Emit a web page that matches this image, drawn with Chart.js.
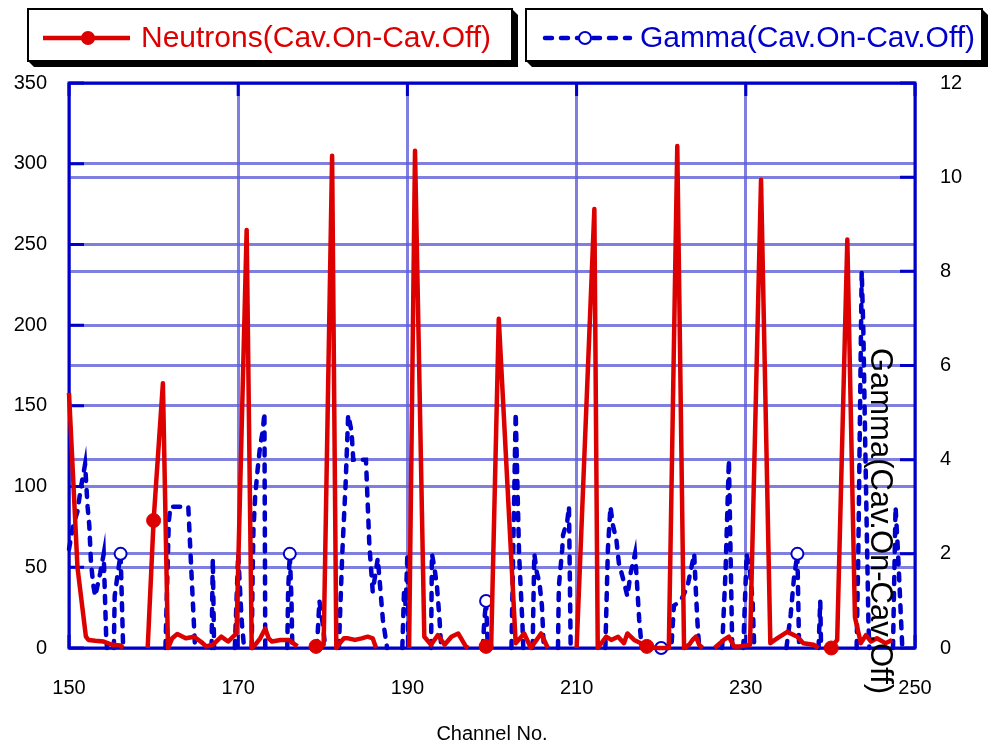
<!DOCTYPE html>
<html>
<head>
<meta charset="utf-8">
<script src="https://cdn.jsdelivr.net/npm/chart.js@4"></script>
<style>
html, body { margin: 0; padding: 0; background: #fff; }
#wrap { width: 990px; height: 747px; }
</style>
</head>
<body>
<div id="wrap"><canvas id="chart" width="990" height="747"></canvas></div>
<script>
// neutron trace: channel positions and counts (null = no line drawn)
const neutronCh = [150, 151, 152, 152.3, 153.1, 154.1, 155.1, 156.1, 156.4, 157,
    159.3, 160, 161.1, 161.7, 162.2, 162.8, 163.8, 164.8, 165.8, 166.2, 167, 168, 168.8, 169.4, 169.8,
    171, 171.6, 172, 172.6, 173.2, 173.6, 174, 175, 176, 177, 177.5,
    178.6, 179.2, 180.1, 181.1, 181.6, 182, 182.5, 183, 183.8, 184.6, 185.3, 185.9, 186.3, 187,
    190.2, 190.9, 192, 192.8, 193.6, 194.4, 195.2, 196, 196.9, 197.2, 198,
    198.7, 199.3, 199.9, 200.8, 202.8, 203.8, 204.6, 205.8, 206.6, 207,
    210, 212.1, 212.5, 213.5, 214.1, 214.9, 215.6, 216, 216.8, 217.6, 218.3, 219.5, 220.9,
    221.9, 222.7, 223.3, 223.7, 224.1, 224.5, 224.9, 225.5,
    226.3, 227.4, 228, 228.6, 229.3, 230.5, 231.8, 232.9, 233.7, 234.9, 236.1, 236.8, 238, 238.6, 239,
    239.5, 240.1, 240.8, 242, 242.9, 243.6, 244.2, 244.8, 245.5, 246.5, 247.3];
const neutronVal = [158, 50, 7, 5, 4.5, 4, 2, 1.5, 0, null,
    0, 79, 164, 0, 6, 8.7, 6, 7, 3, 1, 2, 7, 4, 7, 9,
    259, 0, 2, 6, 12, 6, 4, 5, 5, 1, null,
    0, 1, 2, 305, 0, 3, 6, 6, 5, 6, 7, 6, 0, null,
    0, 308, 7, 2, 8, 2, 7, 9, 1, 0, null,
    0, 1, 1, 204, 3, 9, 0, 9, 0, null,
    0, 272, 0, 7, 5, 7, 3, 9, 5, 3, 1, 0, 0,
    311, 0, 2, 5, 7, 2, 0, null,
    0, 5, 7, 1, 1, 2, 290, 3, 6, 10, 7, 3, 2, 0, null,
    0, 0, 5, 253, 19, 3, 8, 4, 6, 3, 5];
const neutronMarks = [160, 179.2, 199.3, 218.3, 240.1];

// gamma trace
const gammaCh = [150, 150.5, 151, 151.4, 151.9, 152.2, 152.4, 152.6, 152.9, 153.1, 153.7, 154.1, 154.4, 154.5, 155,
    155.3, 155.4, 155.7, 156.1, 156.4, 158,
    161.4, 161.8, 162, 162.8, 164.1, 164.9, 166,
    166.85, 167, 167.15, 168,
    169.6, 170, 170.4, 170.7, 171,
    171.6, 171.7, 171.8, 172, 172.3, 172.6, 172.9, 173.1, 173.2, 174,
    175.8, 175.9, 176.1, 176.3, 176.4, 178,
    179.3, 179.6, 180, 180.3, 181,
    181.9, 182.3, 182.7, 183, 183.4, 183.6, 185.1, 185.5, 185.9, 186.5, 187.1, 187.6, 188,
    189.4, 189.6, 189.8, 190, 190.1, 191,
    192.8, 192.9, 193.2, 193.5, 193.8, 194, 196,
    198.9, 199.1, 199.3, 199.5, 201,
    202.3, 202.8, 203.2, 203.6, 203.7, 204,
    204.8, 205, 205.3, 205.6, 205.9, 206.1, 206.2, 207,
    207.8, 207.9, 208.3, 208.4, 208.9, 209.1, 209.3, 211,
    213.4, 213.7, 214, 214.3, 214.7, 215, 215.6, 216, 216.4, 216.9, 217.1, 217.4, 217.7, 219,
    220, 221.2, 221.5, 222.3, 223.1, 223.9, 224.1, 224.3, 224.5, 226,
    227.2, 227.6, 227.8, 228, 228.2, 228.4, 229,
    229.7, 230.1, 230.5, 230.8, 231, 233,
    234.8, 235.3, 235.7, 236.1, 236.3, 237,
    238.6, 238.8, 238.9, 240,
    243.1, 243.3, 243.5, 243.7, 243.9, 244.1, 244.3, 244.5, 244.6, 246,
    247.4, 247.7, 248, 248.3, 248.5];
const gammaVal = [2.1, 2.6, 2.9, 3.4, 3.9, 3.0, 2.6, 1.8, 1.3, 1.1, 1.6, 2.0, 0.2, 0, null,
    0, 1.1, 1.5, 2.0, 0, null,
    0, 2.7, 3.0, 3.0, 3.0, 0, null,
    0, 1.9, 0, null,
    0, 2.0, 0.6, 0, null,
    0, 1.5, 2.5, 3.2, 3.8, 4.3, 4.6, 5.0, 0, null,
    0, 1.2, 2.0, 1.0, 0, null,
    0, 1.0, 0.5, 0, null,
    0, 2.0, 3.5, 4.95, 4.6, 4.0, 4.0, 2.2, 1.2, 1.9, 0.6, 0, null,
    0, 1.2, 0.9, 2.0, 0, null,
    0, 2.0, 1.7, 1.3, 0.6, 0, null,
    0, 0.6, 1.0, 0, null,
    0, 5.0, 2.0, 0.5, 0, null,
    0, 2.0, 1.6, 1.4, 0.9, 0.1, 0, null,
    0, 1.3, 2.1, 2.4, 2.7, 3.0, 0, null,
    0, 2.1, 3.0, 2.6, 2.3, 1.8, 1.4, 1.1, 1.6, 2.0, 1.5, 0.6, 0, null,
    0, 0, 0.9, 1.0, 1.3, 2.0, 1.2, 0.5, 0, null,
    0, 1.6, 2.8, 4.0, 2.0, 0, null,
    0, 2.0, 1.6, 1.0, 0, null,
    0, 0.7, 1.5, 2.0, 0, null,
    0, 1.0, 0, null,
    0, 2.0, 5.0, 8.0, 6.7, 4.5, 2.5, 0.5, 0, null,
    0, 3.0, 2.0, 0.8, 0];
const gammaMarks = [156.1, 176.1, 199.3, 220, 236.1];

const red = '#dd0000';
const blue = '#0000cc';
const axisBlue = '#0000c8';
const gridBlue = 'rgba(95, 95, 215, 0.8)';
const fontFamily = '"Liberation Sans", Arial, sans-serif';

const neutronPts = neutronCh.map((c, i) => ({ x: c, y: neutronVal[i] }));
const gammaPts = gammaCh.map((c, i) => ({ x: c, y: gammaVal[i] }));

const framePlugin = {
    id: 'frame',
    beforeDatasetsDraw(chart) {
        const { ctx, chartArea: a, scales } = chart;
        ctx.save();
        ctx.strokeStyle = axisBlue;
        ctx.lineWidth = 3;
        ctx.beginPath();
        scales.y.ticks.forEach(t => {
            const y = scales.y.getPixelForValue(t.value);
            ctx.moveTo(a.left, y);
            ctx.lineTo(a.left + 15, y);
        });
        scales.y2.ticks.forEach(t => {
            const y = scales.y2.getPixelForValue(t.value);
            ctx.moveTo(a.right, y);
            ctx.lineTo(a.right - 15, y);
        });
        scales.x.ticks.forEach(t => {
            const x = scales.x.getPixelForValue(t.value);
            ctx.moveTo(x, a.top);
            ctx.lineTo(x, a.top + 13);
            ctx.moveTo(x, a.bottom);
            ctx.lineTo(x, a.bottom - 13);
        });
        ctx.stroke();
        ctx.strokeRect(a.left, a.top, a.width, a.height);
        ctx.restore();
    }
};

function legendBox(ctx, x, y, w, h) {
    ctx.fillStyle = '#000';
    ctx.beginPath();
    ctx.moveTo(x, y + h);
    ctx.lineTo(x + 6, y + h + 6);
    ctx.lineTo(x + w + 6, y + h + 6);
    ctx.lineTo(x + w + 6, y + 6);
    ctx.lineTo(x + w, y);
    ctx.closePath();
    ctx.fill();
    ctx.fillStyle = '#fff';
    ctx.fillRect(x, y, w, h);
    ctx.strokeStyle = '#000';
    ctx.lineWidth = 2;
    ctx.strokeRect(x, y, w, h);
}

const overlayPlugin = {
    id: 'overlay',
    afterDraw(chart) {
        const ctx = chart.ctx;
        const ds = chart.data.datasets;
        ctx.save();

        // legend
        legendBox(ctx, 28, 9, 484, 52);
        legendBox(ctx, 526, 9, 456, 52);
        ctx.font = '30px ' + fontFamily;
        ctx.textBaseline = 'middle';

        ctx.strokeStyle = ds[0].borderColor;
        ctx.lineWidth = 4.5;
        ctx.beginPath();
        ctx.moveTo(43, 38);
        ctx.lineTo(130, 38);
        ctx.stroke();
        ctx.fillStyle = ds[0].borderColor;
        ctx.beginPath();
        ctx.arc(88, 38, 7, 0, Math.PI * 2);
        ctx.fill();
        ctx.fillText(ds[0].label, 141, 39);

        ctx.strokeStyle = ds[1].borderColor;
        ctx.lineWidth = 4.5;
        ctx.lineCap = 'round';
        ctx.setLineDash(ds[1].borderDash);
        ctx.beginPath();
        ctx.moveTo(545, 38);
        ctx.lineTo(630, 38);
        ctx.stroke();
        ctx.setLineDash([]);
        ctx.fillStyle = '#fff';
        ctx.lineWidth = 2;
        ctx.beginPath();
        ctx.arc(585, 38, 6, 0, Math.PI * 2);
        ctx.fill();
        ctx.stroke();
        ctx.fillStyle = ds[1].borderColor;
        ctx.fillText(ds[1].label, 640, 39);

        // right axis title, drawn over the plot like the original
        ctx.font = '31px ' + fontFamily;
        ctx.translate(880, 521);
        ctx.rotate(Math.PI / 2);
        ctx.textAlign = 'center';
        ctx.fillStyle = '#000';
        ctx.fillText('Gamma(Cav.On-Cav.Off)', 0, 0);
        ctx.restore();
    }
};

new Chart(document.getElementById('chart').getContext('2d'), {
    type: 'line',
    data: {
        datasets: [{
            label: 'Neutrons(Cav.On-Cav.Off)',
            data: neutronPts,
            yAxisID: 'y',
            borderColor: red,
            backgroundColor: red,
            borderWidth: 4.5,
            tension: 0,
            spanGaps: false,
            borderJoinStyle: 'round',
            pointRadius: c => (c.raw && neutronMarks.includes(c.raw.x)) ? 7 : 0,
            pointBackgroundColor: red,
            pointBorderColor: red,
            pointBorderWidth: 1,
            clip: false
        }, {
            label: 'Gamma(Cav.On-Cav.Off)',
            data: gammaPts,
            yAxisID: 'y2',
            borderColor: blue,
            backgroundColor: '#fff',
            borderWidth: 4.5,
            borderDash: [7, 9],
            borderCapStyle: 'round',
            tension: 0,
            spanGaps: false,
            pointRadius: c => (c.raw && gammaMarks.includes(c.raw.x)) ? 6 : 0,
            pointBackgroundColor: '#fff',
            pointBorderColor: blue,
            pointBorderWidth: 2,
            clip: false
        }]
    },
    options: {
        responsive: false,
        animation: false,
        events: [],
        layout: {
            padding: { top: 83, left: 0, right: 0, bottom: 0 }
        },
        plugins: {
            legend: { display: false },
            tooltip: { enabled: false }
        },
        scales: {
            x: {
                type: 'linear',
                min: 150,
                max: 250,
                border: { display: false },
                grid: { color: gridBlue, lineWidth: 3, drawTicks: false },
                ticks: {
                    stepSize: 20,
                    padding: 28,
                    color: '#000',
                    font: { family: fontFamily, size: 20 },
                    maxRotation: 0
                },
                title: {
                    display: true,
                    text: 'Channel No.',
                    color: '#000',
                    font: { family: fontFamily, size: 20 },
                    padding: { top: 0, bottom: 1 }
                },
                afterFit: s => { s.height = 99; }
            },
            y: {
                position: 'left',
                min: 0,
                max: 350,
                border: { display: false },
                grid: { color: gridBlue, lineWidth: 3, drawTicks: false },
                ticks: {
                    stepSize: 50,
                    padding: 22,
                    color: '#000',
                    font: { family: fontFamily, size: 20 }
                },
                afterFit: s => { s.width = 69; }
            },
            y2: {
                position: 'right',
                min: 0,
                max: 12,
                border: { display: false },
                grid: { color: gridBlue, lineWidth: 3, drawTicks: false, drawOnChartArea: true },
                ticks: {
                    stepSize: 2,
                    padding: 25,
                    color: '#000',
                    font: { family: fontFamily, size: 20 }
                },
                afterFit: s => { s.width = 75; }
            }
        }
    },
    plugins: [framePlugin, overlayPlugin]
});
</script>
</body>
</html>
